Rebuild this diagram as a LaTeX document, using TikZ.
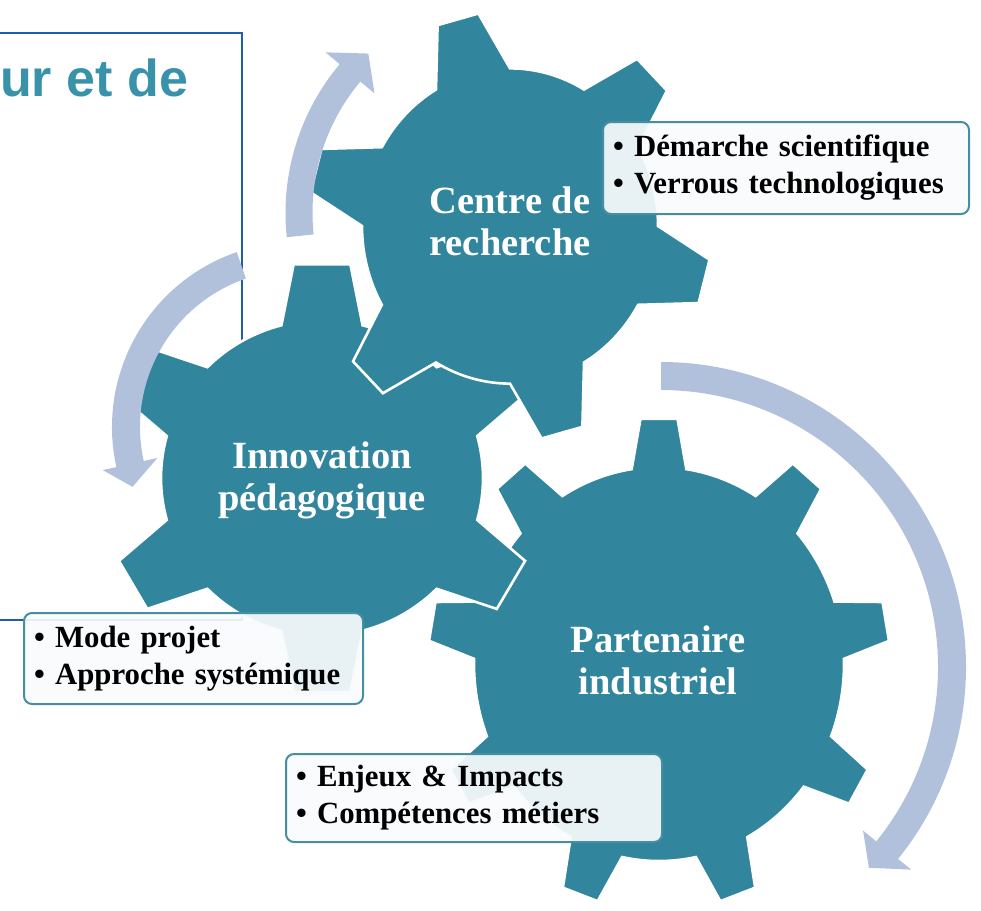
\documentclass[tikz,border=0pt]{standalone}
\usepackage{fontspec}
\setmainfont{Liberation Serif}
\newfontfamily\headfont{Liberation Sans}
\usetikzlibrary{calc}
\definecolor{gearteal}{RGB}{49,133,156}
\definecolor{arrowblue}{RGB}{177,193,219}
\definecolor{frameblue}{RGB}{30,96,168}
\definecolor{headteal}{RGB}{56,146,170}
\definecolor{boxedge}{RGB}{70,142,162}
\definecolor{boxfill}{RGB}{248,251,252}
% #1 cx, #2 cy, #3 teeth, #4 first tooth angle, #5 root r, #6 tip r, #7 base half-angle, #8 tip half-angle, #9 y factor
\newcommand{\gearshape}[9]{%
  ({#1+#5*cos(#4-#7)},{#2-#9*#5*sin(#4-#7)})
  \foreach \gi in {1,...,#3}{
    -- ({#1+#6*cos(#4+(\gi-1)*360/#3-#8)},{#2-#9*#6*sin(#4+(\gi-1)*360/#3-#8)})
    -- ({#1+#6*cos(#4+(\gi-1)*360/#3+#8)},{#2-#9*#6*sin(#4+(\gi-1)*360/#3+#8)})
    -- ({#1+#5*cos(#4+(\gi-1)*360/#3+#7)},{#2-#9*#5*sin(#4+(\gi-1)*360/#3+#7)})
    arc[start angle={-(#4+(\gi-1)*360/#3+#7)}, end angle={-(#4+\gi*360/#3-#7)}, x radius=#5, y radius={#9*#5}]
  } -- cycle}
\begin{document}
\begin{tikzpicture}[x=1pt,y=-1pt,
  gearstyle/.style={fill=gearteal, draw=white, line width=2.6pt, line join=miter},
  arrowstyle/.style={fill=arrowblue},
  bulletbox/.style={draw=boxedge, line width=2pt, rounded corners=8pt, fill=boxfill,
    fill opacity=0.92, text opacity=1, inner xsep=10pt, align=left, anchor=north west,
    font=\bfseries\fontsize{30.8}{37}\selectfont},
  gearlabel/.style={text=white, align=center, font=\bfseries\fontsize{38.5}{42}\selectfont},
]
\useasboundingbox (0,0) rectangle (981,910);
% frame and heading
\draw[frameblue, line width=2pt] (-5,33) -- (242,33) -- (242,620) -- (-5,620);
\node[headteal, anchor=base west, inner sep=0pt, font=\headfont\bfseries\fontsize{52}{60}\selectfont] (head) at (0,96) {ur et de};
% gears
\path[gearstyle] \gearshape{659}{664}{9}{90}{185}{231}{8.5}{4.6}{1.065};
\path[gearstyle] \gearshape{322}{478}{6}{90}{161}{220}{14.6}{7.4}{0.98};
\path[gearstyle] \gearshape{510}{226}{6}{105}{148}{202}{15}{6}{1.065};
% circular arrows
\coordinate (c1) at (517,213);
\coordinate (c2) at (297,427);
\coordinate (c3) at (661,667);
\fill[arrowstyle] ($(c1)+(-186:231.5)$) arc[start angle=-186, end angle=-140, radius=231.5]
  -- ($(c1)+(-140:250)$) -- ($(c1)+(-133:218)$) -- ($(c1)+(-140:186)$)
  -- ($(c1)+(-140:204.5)$) arc[start angle=-140, end angle=-186, radius=204.5] -- cycle;
\fill[arrowstyle] ($(c2)+(-109:185)$) arc[start angle=-109, end angle=-192.5, radius=185]
  -- ($(c2)+(-192.5:199)$) -- ($(c2)+(-200:175)$) -- ($(c2)+(-192.5:143)$)
  -- ($(c2)+(-192.5:157)$) arc[start angle=-192.5, end angle=-109, radius=157] -- cycle;
\fill[arrowstyle] ($(c3)+(-90:305)$) arc[start angle=-90, end angle=39, radius=305]
  -- ($(c3)+(39:322)$) -- ($(c3)+(44:289)$) -- ($(c3)+(39:260)$)
  -- ($(c3)+(39:277)$) arc[start angle=39, end angle=-90, radius=277] -- cycle;
% gear labels
\node[gearlabel] (lab1) at (510,221) {Centre de\\recherche};
\node[gearlabel] (lab2) at (322,480) {Innovation\\pédagogique};
\node[gearlabel] (lab3) at (658,660) {Partenaire\\industriel};
% bullet boxes
\node[bulletbox, minimum width=366, minimum height=92, text width=346] (box1) at (602,121)
  {• Démarche scientifique\\• Verrous technologiques};
\node[bulletbox, minimum width=339, minimum height=91, text width=319] (box2) at (23,612)
  {• Mode projet\\• Approche systémique};
\node[bulletbox, minimum width=376, minimum height=88, text width=356] (box3) at (285,753)
  {• Enjeux \& Impacts\\• Compétences métiers};
\end{tikzpicture}
\end{document}
